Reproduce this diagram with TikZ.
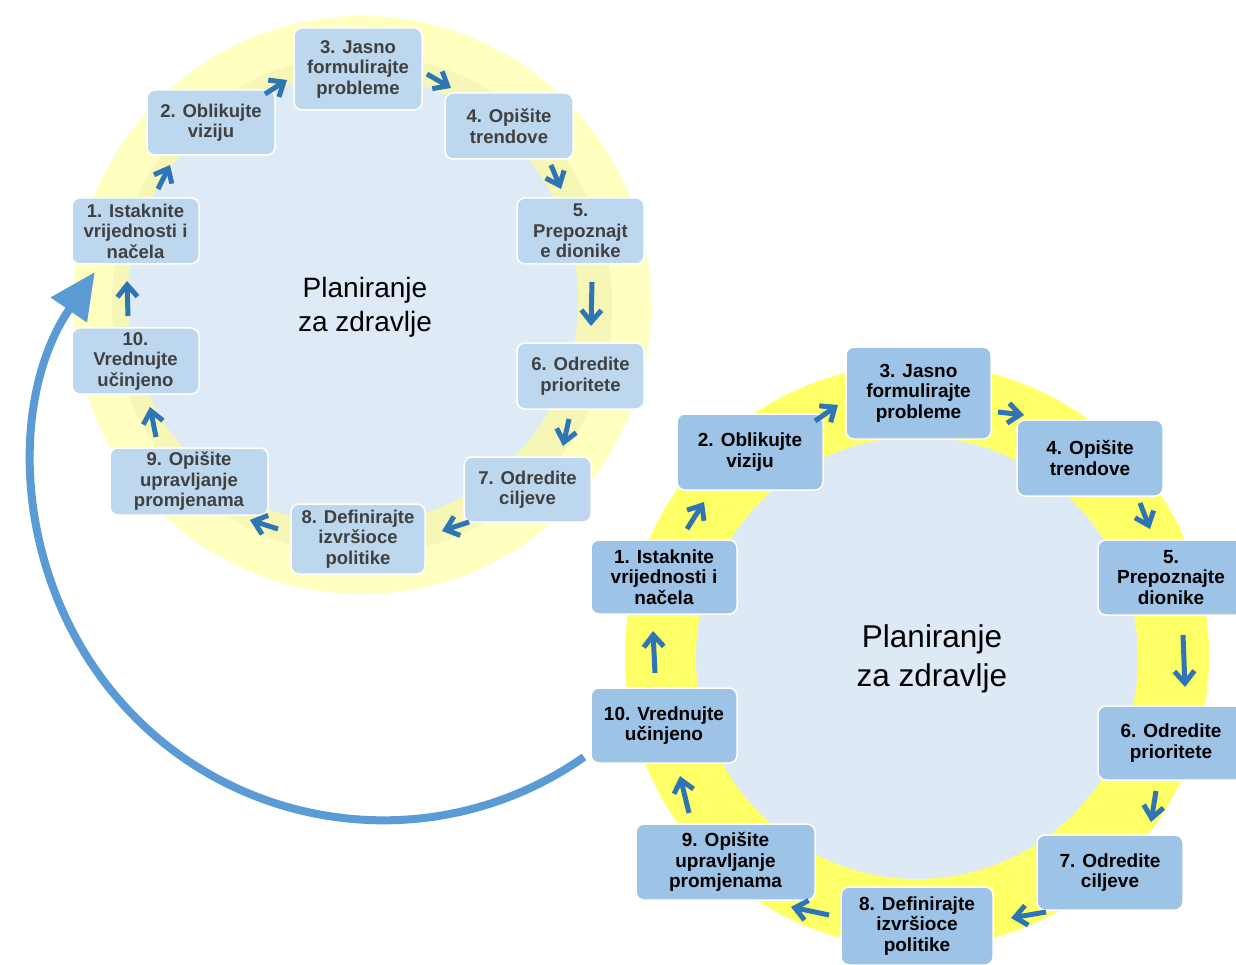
\documentclass[tikz,border=0pt]{standalone}
\usepackage{fontspec}
\setmainfont{Liberation Sans}
\usetikzlibrary{arrows.meta}
\definecolor{ringA}{HTML}{FFFFC0}
\definecolor{ringAband}{HTML}{F6F6B6}
\definecolor{ringB}{HTML}{FFFF66}
\definecolor{diskA}{HTML}{DEEAF6}
\definecolor{diskB}{HTML}{DDE9F5}
\definecolor{boxA}{HTML}{BDD7EE}
\definecolor{boxB}{HTML}{9DC3E6}
\definecolor{txtA}{HTML}{404040}
\definecolor{chev}{HTML}{2E75B6}
\definecolor{bigarc}{HTML}{5B9BD5}
\begin{document}
\begin{tikzpicture}[x=1pt,y=-1pt,
  boxa/.style={draw=white, line width=1.5pt, fill=boxA, rounded corners=8pt, align=center,
    text=txtA, inner sep=0pt, font=\bfseries\fontsize{18.5}{20.5}\selectfont},
  boxb/.style={draw=white, line width=1.5pt, fill=boxB, rounded corners=8pt, align=center,
    text=black, inner sep=0pt, font=\bfseries\fontsize{19}{20.5}\selectfont},
  chv/.style={draw=chev, line width=5pt, -{Straight Barb[length=12pt,width=20pt]}},
  titlea/.style={align=center, font=\fontsize{28}{34}\selectfont},
  titleb/.style={align=center, font=\fontsize{31.5}{39}\selectfont},
]
\useasboundingbox (0,0) rectangle (1236,965);
\fill[white] (0,0) rectangle (1236,965);

% ---------- upper (faded) cycle ----------
\fill[ringA] (362,305) circle[radius=289];
\fill[ringAband] (362,305) circle[radius=250];
\fill[diskA] (353,300) circle[radius=225];
\node[titlea] (ta) at (365,307) {Planiranje\\za zdravlje};

% ---------- lower cycle ----------
\fill[ringB] (917,656) circle[radius=292];
\fill[diskB] (917,658) circle[radius=221];
\node[titleb] (tb) at (932,659) {Planiranje\\za zdravlje};

% ---------- big return arc ----------
\coordinate (arcS) at (584,757);
\draw[bigarc, line width=8pt, -{Triangle[length=46pt,width=42pt]}]
  (arcS) arc[start angle=55, end angle=214.5, radius=350];

% ---------- upper nodes ----------
\node[boxa, minimum width=127pt, minimum height=66pt] (u1) at (135.5,231) {1. Istaknite\\vrijednosti i\\načela};
\node[boxa, minimum width=128pt, minimum height=65pt] (u2) at (211,122.5) {2. Oblikujte\\viziju};
\node[boxa, minimum width=128pt, minimum height=82pt] (u3) at (358,69) {3. Jasno\\formulirajte\\probleme};
\node[boxa, minimum width=128pt, minimum height=66pt] (u4) at (509,126) {4. Opišite\\trendove};
\node[boxa, minimum width=127pt, minimum height=66pt] (u5) at (580.5,231) {5.\\Prepoznajt\\e dionike};
\node[boxa, minimum width=127pt, minimum height=66pt] (u6) at (580.5,376) {6. Odredite\\prioritete};
\node[boxa, minimum width=127pt, minimum height=65pt] (u7) at (527.5,489.5) {7. Odredite\\ciljeve};
\node[boxa, minimum width=134pt, minimum height=70pt] (u8) at (358,539) {8. Definirajte\\izvršioce\\politike};
\node[boxa, minimum width=158pt, minimum height=67pt] (u9) at (189,481.5) {9. Opišite\\upravljanje\\promjenama};
\node[boxa, minimum width=127pt, minimum height=66pt] (u10) at (135.5,361) {10.\\Vrednujte\\učinjeno};

% ---------- lower nodes ----------
\node[boxb, minimum width=146pt, minimum height=74pt] (l1) at (664,577) {1. Istaknite\\vrijednosti i\\načela};
\node[boxb, minimum width=146pt, minimum height=76pt] (l2) at (750,452) {2. Oblikujte\\viziju};
\node[boxb, minimum width=145pt, minimum height=92pt] (l3) at (918.5,393) {3. Jasno\\formulirajte\\probleme};
\node[boxb, minimum width=146pt, minimum height=76pt] (l4) at (1090,458) {4. Opišite\\trendove};
\node[boxb, minimum width=146pt, minimum height=75pt] (l5) at (1171,577.5) {5.\\Prepoznajte\\dionike};
\node[boxb, minimum width=146pt, minimum height=74pt] (l6) at (1171,743) {6. Odredite\\prioritete};
\node[boxb, minimum width=146pt, minimum height=75pt] (l7) at (1110,872.5) {7. Odredite\\ciljeve};
\node[boxb, minimum width=152pt, minimum height=78pt] (l8) at (917,926) {8. Definirajte\\izvršioce\\politike};
\node[boxb, minimum width=179pt, minimum height=76pt] (l9) at (725.5,862) {9. Opišite\\upravljanje\\promjenama};
\node[boxb, minimum width=146pt, minimum height=75pt] (l10) at (664,725.5) {10. Vrednujte\\učinjeno};

% ---------- chevron arrow end points ----------
\coordinate (u12a) at (158,189);  \coordinate (u12b) at (170,165);
\coordinate (u23a) at (265,94);   \coordinate (u23b) at (287,80);
\coordinate (u34a) at (427,74);   \coordinate (u34b) at (451,88);
\coordinate (u45a) at (551,165);  \coordinate (u45b) at (561,189);
\coordinate (u56a) at (592,282);  \coordinate (u56b) at (591,326);
\coordinate (u67a) at (569,419);  \coordinate (u67b) at (563,446);
\coordinate (u78a) at (469,522);  \coordinate (u78b) at (442,531);
\coordinate (u89a) at (278,529);  \coordinate (u89b) at (250,520);
\coordinate (u910a) at (156,437); \coordinate (u910b) at (150,407);
\coordinate (u101a) at (128,316); \coordinate (u101b) at (127,281);

\coordinate (l12a) at (687,529);  \coordinate (l12b) at (704,502);
\coordinate (l23a) at (815,421);  \coordinate (l23b) at (838,405);
\coordinate (l34a) at (998,412);  \coordinate (l34b) at (1024,415);
\coordinate (l45a) at (1140,503); \coordinate (l45b) at (1150,529);
\coordinate (l56a) at (1183,635); \coordinate (l56b) at (1185,687);
\coordinate (l67a) at (1156,791); \coordinate (l67b) at (1151,822);
\coordinate (l78a) at (1046,912); \coordinate (l78b) at (1011,918);
\coordinate (l89a) at (829,915);  \coordinate (l89b) at (791,907);
\coordinate (l910a) at (689,813); \coordinate (l910b) at (680,776);
\coordinate (l101a) at (655,673); \coordinate (l101b) at (653,631);

\foreach \p in {u12,u23,u34,u45,u56,u67,u78,u89,u910,u101,
                l12,l23,l34,l45,l56,l67,l78,l89,l910,l101}
  \draw[chv] (\p a) -- (\p b);
\end{tikzpicture}
\end{document}
